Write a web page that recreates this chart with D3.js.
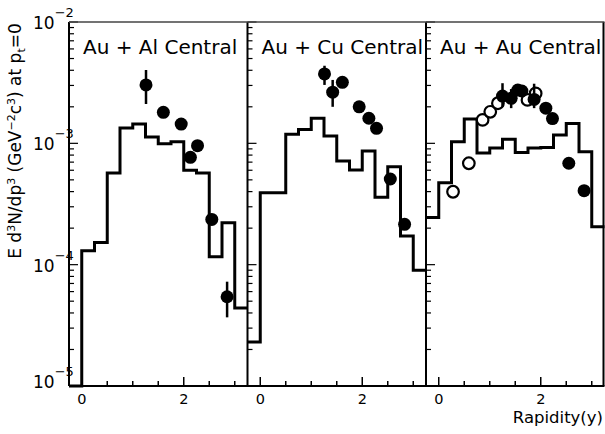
<!DOCTYPE html>
<html><head><meta charset="utf-8">
<script src="https://cdn.jsdelivr.net/npm/d3@7"></script>
<style>html,body{margin:0;padding:0;background:#fff;} svg{display:block;font-family:"DejaVu Sans",sans-serif;}</style>
</head><body><svg id="c" width="605" height="434"></svg>
<script>
// ---------- data ----------
const panelTitles = ["Au + Al Central", "Au + Cu Central", "Au + Au Central"];
const binEdges = [-0.25, 0, 0.25, 0.5, 0.75, 1.0, 1.25, 1.5, 1.75, 2.0, 2.25, 2.5, 2.75, 3.0, 3.25];
const histAl = [1e-5, 1.30e-4, 1.52e-4, 5.69e-4, 1.34e-3, 1.44e-3, 1.13e-3, 9.9e-4, 1.03e-3, 6.0e-4, 5.7e-4, 1.16e-4, 2.22e-4, 4.4e-5];
const histCu = [2.31e-5, 3.92e-4, 3.92e-4, 1.19e-3, 1.30e-3, 1.61e-3, 1.15e-3, 7.15e-4, 6.03e-4, 8.64e-4, 3.59e-4, 6.42e-4, 1.72e-4, 9.0e-5];
const histAu = [2.45e-4, 4.74e-4, 1.03e-3, 1.59e-3, 8.33e-4, 9.15e-4, 1.08e-3, 8.4e-4, 9.15e-4, 9.24e-4, 1.17e-3, 1.46e-3, 8.53e-4, 2.05e-4];

const alY    = [1.26, 1.60, 1.95, 2.13, 2.27, 2.55, 2.85];
const alVal  = [3.03e-3, 1.80e-3, 1.44e-3, 7.67e-4, 9.56e-4, 2.36e-4, 5.44e-5];
const alLo   = [2.11e-3, 1.62e-3, null, null, null, null, 3.68e-5];
const alHi   = [4.02e-3, 2.00e-3, null, null, null, null, 7.24e-5];

const cuY    = [1.26, 1.42, 1.61, 1.94, 2.13, 2.28, 2.55, 2.83];
const cuVal  = [3.73e-3, 2.64e-3, 3.18e-3, 2.0e-3, 1.61e-3, 1.33e-3, 5.08e-4, 2.15e-4];
const cuLo   = [3.03e-3, 2.0e-3, null, null, null, null, null, null];
const cuHi   = [4.36e-3, 3.33e-3, null, null, null, null, null, null];

const auY    = [1.25, 1.42, 1.55, 1.63, 1.87, 2.10, 2.23, 2.55, 2.85];
const auVal  = [2.45e-3, 2.35e-3, 2.75e-3, 2.7e-3, 2.3e-3, 1.95e-3, 1.6e-3, 6.85e-4, 4.07e-4];
const auLo   = [2.0e-3, 1.95e-3, null, null, 1.95e-3, null, null, null, null];
const auHi   = [3.13e-3, 2.8e-3, null, null, 3.1e-3, null, null, null, null];

const auOpenY   = [0.28, 0.59, 0.86, 1.01, 1.16, 1.74, 1.90];
const auOpenVal = [3.99e-4, 6.85e-4, 1.56e-3, 1.82e-3, 2.14e-3, 2.28e-3, 2.58e-3];

const xTicks = [0, 0.5, 1, 1.5, 2, 2.5, 3];
const xTickLabels = ["0", "2"];
const yDecades = [-5, -4, -3, -2];

// ---------- layout ----------
const svg = d3.select("#c");
const plotL = 69, panelW = 178.5, plotT = 22, plotB = 386;
const y = d3.scaleLog().domain([1e-5, 1e-2]).range([plotB, plotT]).clamp(true);

const panels = [
  {title: panelTitles[0], hist: histAl, fy: alY, fv: alVal, lo: alLo, hi: alHi, oy: [], ov: []},
  {title: panelTitles[1], hist: histCu, fy: cuY, fv: cuVal, lo: cuLo, hi: cuHi, oy: [], ov: []},
  {title: panelTitles[2], hist: histAu, fy: auY, fv: auVal, lo: auLo, hi: auHi, oy: auOpenY, ov: auOpenVal}
];

panels.forEach((p, i) => {
  const x0 = plotL + i * panelW;
  const x = d3.scaleLinear().domain([-0.25, 3.25]).range([x0, x0 + panelW]);
  const g = svg.append("g");

  // histogram
  const pts = p.hist.map((v, k) => [binEdges[k], v]);
  pts.push([binEdges[binEdges.length - 1], p.hist[p.hist.length - 1]]);
  const line = d3.line().x(d => x(d[0])).y(d => y(d[1])).curve(d3.curveStepAfter);
  g.append("path").attr("d", line(pts)).attr("fill", "none")
    .attr("stroke", "#000").attr("stroke-width", 3).attr("stroke-linejoin", "miter");

  // open markers
  p.oy.forEach((r, k) => {
    g.append("circle").attr("cx", x(r)).attr("cy", y(p.ov[k])).attr("r", 5.8)
      .attr("fill", "#fff").attr("stroke", "#000").attr("stroke-width", 2.2);
  });
  // error bars + filled markers
  p.fy.forEach((r, k) => {
    if (p.lo[k] != null) {
      g.append("line").attr("x1", x(r)).attr("x2", x(r))
        .attr("y1", y(p.lo[k])).attr("y2", y(p.hi[k]))
        .attr("stroke", "#000").attr("stroke-width", 2.5);
    }
    g.append("circle").attr("cx", x(r)).attr("cy", y(p.fv[k])).attr("r", 6.5).attr("fill", "#000");
  });

  // y ticks (left border of each panel, pointing inward)
  yDecades.forEach((d) => {
    const base = Math.pow(10, d);
    g.append("line").attr("x1", x0).attr("x2", x0 + 9).attr("y1", y(base)).attr("y2", y(base))
      .attr("stroke", "#000").attr("stroke-width", 1.2);
    if (d < -2) {
      for (let m = 2; m <= 9; m++) {
        const yy = y(m * base);
        g.append("line").attr("x1", x0).attr("x2", x0 + 5).attr("y1", yy).attr("y2", yy)
          .attr("stroke", "#000").attr("stroke-width", 1.2);
      }
    }
  });

  // x ticks
  xTicks.forEach(t => {
    const len = (t === 0 || t === 2) ? 9 : 5;
    g.append("line").attr("x1", x(t)).attr("x2", x(t)).attr("y1", plotB).attr("y2", plotB - len)
      .attr("stroke", "#000").attr("stroke-width", 1.5);
  });
  xTickLabels.forEach(l => {
    g.append("text").attr("x", x(+l)).attr("y", 403.5).attr("text-anchor", "middle")
      .attr("font-size", 14.5).text(l);
  });

  // title
  g.append("text").attr("x", x0 + 14).attr("y", 53.5).attr("font-size", 20).text(p.title);

  // left border
  g.append("line").attr("x1", x0).attr("x2", x0).attr("y1", plotT).attr("y2", plotB)
    .attr("stroke", "#000").attr("stroke-width", 2);
});

// outer frame
const plotR = plotL + 3 * panelW;
svg.append("line").attr("x1", plotR - 1).attr("x2", plotR - 1).attr("y1", plotT).attr("y2", plotB)
  .attr("stroke", "#000").attr("stroke-width", 2);
svg.append("line").attr("x1", plotL).attr("x2", plotR).attr("y1", plotT).attr("y2", plotT)
  .attr("stroke", "#444").attr("stroke-width", 1.5);
svg.append("line").attr("x1", plotL).attr("x2", plotR).attr("y1", plotB).attr("y2", plotB)
  .attr("stroke", "#000").attr("stroke-width", 2);

// y tick labels
yDecades.forEach((d, k) => {
  const t = svg.append("text").attr("x", 33).attr("y", y(Math.pow(10, d)) + (k === 0 ? 2 : 7))
    .attr("font-size", 17);
  t.append("tspan").text("10");
  t.append("tspan").attr("font-size", 13).attr("dy", -12).text("\u2212" + (-d));
});

// y axis title
const yt = svg.append("text").attr("transform", "translate(21,141) rotate(-90)")
  .attr("text-anchor", "middle").attr("font-size", 17);
const parts = [["E d", 0, 17], ["3", -6, 11], ["N/dp", 6, 17], ["3", -6, 11], [" (GeV", 6, 17],
  ["\u22122", -6, 11], ["c", 6, 17], ["3", -6, 11], [") at p", 6, 17], ["t", 4, 11], ["=0", -4, 17]];
parts.forEach(([s, dy, fs]) => yt.append("tspan").attr("dy", dy).attr("font-size", fs).text(s));

// x axis title
svg.append("text").attr("x", 603).attr("y", 423).attr("text-anchor", "end")
  .attr("font-size", 16.5).text("Rapidity(y)");
</script></body></html>
